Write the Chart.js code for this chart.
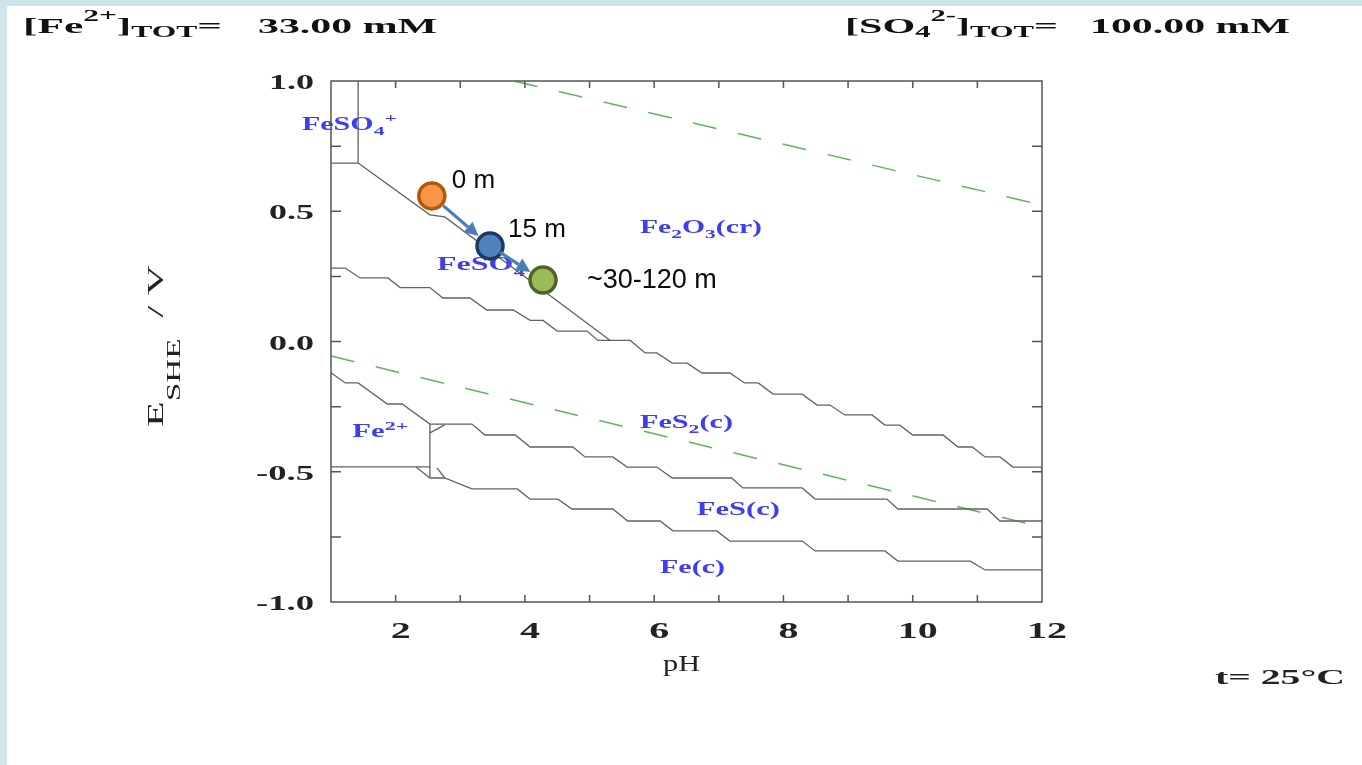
<!DOCTYPE html>
<html>
<head>
<meta charset="utf-8">
<title>Fe-S Pourbaix diagram</title>
<script src="https://cdn.jsdelivr.net/npm/chart.js@4.4.1/dist/chart.umd.min.js"></script>
<style>
  html, body { margin: 0; padding: 0; background: #fff; }
  canvas { display: block; }
</style>
</head>
<body>
<canvas id="pourbaix" width="1362" height="765"></canvas>
<script>
// boundary lines, [pH, E/V]
const fesoBox = [[1.00, 0.685], [1.42, 0.685], [1.42, 1.00]];
const fesoDiag = [[1.42, 0.685], [2.53, 0.486], [2.76, 0.478], [5.32, 0.004]];
const upperSteps = [[1.00, 0.282], [1.22, 0.282], [1.45, 0.244], [1.88, 0.244], [2.07, 0.207], [2.53, 0.207],
  [2.73, 0.167], [3.15, 0.167], [3.41, 0.121], [3.82, 0.121], [4.08, 0.081], [4.28, 0.081], [4.50, 0.040],
  [4.96, 0.040], [5.13, 0.004], [5.63, 0.004], [5.86, -0.044], [6.04, -0.044], [6.28, -0.083], [6.51, -0.083],
  [6.74, -0.121], [7.17, -0.121], [7.40, -0.159], [7.61, -0.159], [7.84, -0.202], [8.29, -0.202], [8.52, -0.244],
  [8.72, -0.244], [8.95, -0.282], [9.37, -0.282], [9.57, -0.321], [9.80, -0.321], [10.00, -0.359], [10.47, -0.359],
  [10.70, -0.405], [10.92, -0.405], [11.12, -0.443], [11.35, -0.443], [11.55, -0.482], [12.00, -0.482]];
const fe2Upper = [[1.00, -0.120], [1.22, -0.159], [1.42, -0.159], [1.87, -0.240], [2.10, -0.240], [2.53, -0.317],
  [3.18, -0.317], [3.38, -0.359], [3.85, -0.359], [4.08, -0.405], [4.74, -0.405], [4.93, -0.443], [5.36, -0.443],
  [5.58, -0.482], [6.04, -0.482], [6.28, -0.524], [7.20, -0.524], [7.37, -0.562], [8.29, -0.562], [8.49, -0.605],
  [9.60, -0.605], [9.77, -0.643], [11.15, -0.643], [11.35, -0.689], [12.00, -0.689]];
const fe2Lower = [[1.00, -0.481], [2.53, -0.481]];
const fe2Wall = [[2.53, -0.317], [2.53, -0.524]];
const lowerSteps = [[2.53, -0.524], [2.76, -0.524], [3.18, -0.566], [3.88, -0.566], [4.08, -0.605], [4.51, -0.605],
  [4.73, -0.643], [5.36, -0.643], [5.59, -0.689], [6.09, -0.689], [6.29, -0.727], [6.97, -0.727], [7.17, -0.766],
  [8.29, -0.766], [8.49, -0.804], [9.57, -0.804], [9.77, -0.843], [10.89, -0.843], [11.12, -0.877], [12.00, -0.877]];
const kinks = [[[2.53, -0.351], [2.76, -0.320]], [[2.32, -0.483], [2.53, -0.524]], [[2.64, -0.485], [2.76, -0.524]]];
const o2Line = [[3.83, 1.00], [12.00, 0.524]];
const h2Line = [[1.00, -0.056], [12.00, -0.712]];

// sampled water
const sampleLabels = ['0 m', '15 m', '~30-120 m'];
const samplePH = [2.56, 3.46, 4.28];
const sampleE = [0.559, 0.367, 0.236];

// species names and where they sit (pH, E)
const speciesNames = [
  [['FeSO', ''], ['4', 'sub'], ['+', 'sup']],
  [['Fe', ''], ['2', 'sub'], ['O', ''], ['3', 'sub'], ['(cr)', '']],
  [['FeSO', ''], ['4', 'sub']],
  [['Fe', ''], ['2+', 'sup']],
  [['FeS', ''], ['2', 'sub'], ['(c)', '']],
  [['FeS(c)', '']],
  [['Fe(c)', '']]
];
const speciesPH = [0.55, 5.78, 2.64, 1.33, 5.78, 6.66, 6.09];
const speciesE = [0.812, 0.417, 0.274, -0.367, -0.332, -0.666, -0.889];

// axes
const xTickLabels = [2, 4, 6, 8, 10, 12];
const xTickMarks = [2, 3, 4, 5, 6, 7, 8, 9, 10, 11];
const yTickValues = [1.0, 0.5, 0.0, -0.5, -1.0];
const yTickLabels = ['1.0', '0.5', '0.0', '-0.5', '-1.0'];
const yTickMarks = [0.75, 0.5, 0.25, 0, -0.25, -0.5, -0.75];

const SERIF = '"Liberation Serif", "Times New Roman", serif';
const SANS = '"Liberation Sans", Arial, sans-serif';

const pts = a => a.map(p => ({ x: p[0], y: p[1] }));
const boundary = a => ({ data: pts(a), showLine: true, borderColor: '#626262', borderWidth: 1.3, pointRadius: 0, order: 2 });
const water = a => ({ data: pts(a), showLine: true, borderColor: '#5fb45f', borderWidth: 1.5, borderDash: [24, 22], pointRadius: 0, order: 3 });

// text made of pieces, some set as sub/superscript, stretched to a given width
function drawRich(ctx, parts, x, y, size, width, opt) {
  opt = opt || {};
  const fam = opt.family || SERIF;
  const wt = opt.weight || 'normal';
  const small = opt.small || 0.7;
  const fontFor = k => wt + ' ' + (k ? Math.round(size * small) : size) + 'px ' + fam;
  let nat = 0;
  parts.forEach(p => { ctx.font = fontFor(p[1]); nat += ctx.measureText(p[0]).width; });
  const sx = width ? width / nat : 1;
  ctx.save();
  ctx.translate(x, y);
  if (opt.rotate) ctx.rotate(opt.rotate);
  ctx.scale(sx, 1);
  let cx = opt.align === 'right' ? -nat : (opt.align === 'center' ? -nat / 2 : 0);
  ctx.fillStyle = opt.color || '#111';
  ctx.textAlign = 'left';
  ctx.textBaseline = 'alphabetic';
  parts.forEach(p => {
    ctx.font = fontFor(p[1]);
    const dy = p[1] === 'sub' ? size * (opt.subShift || 0.25) : (p[1] === 'sup' ? -size * (opt.supShift || 0.42) : 0);
    ctx.fillText(p[0], cx, dy);
    cx += ctx.measureText(p[0]).width;
  });
  ctx.restore();
}

function arrow(ctx, x0, y0, x1, y1) {
  const a = Math.atan2(y1 - y0, x1 - x0);
  const head = 14, half = 7;
  const bx = x1 - head * Math.cos(a), by = y1 - head * Math.sin(a);
  ctx.save();
  ctx.strokeStyle = '#4a7ebb';
  ctx.fillStyle = '#4a7ebb';
  ctx.lineWidth = 3.2;
  ctx.beginPath();
  ctx.moveTo(x0, y0);
  ctx.lineTo(bx, by);
  ctx.stroke();
  ctx.beginPath();
  ctx.moveTo(x1, y1);
  ctx.lineTo(bx + half * Math.sin(a), by - half * Math.cos(a));
  ctx.lineTo(bx - half * Math.sin(a), by + half * Math.cos(a));
  ctx.closePath();
  ctx.fill();
  ctx.restore();
}

const speciesWidths = [95, 122, 88, 56, 93, 83, 65];

const diagram = {
  id: 'diagram',
  beforeDraw(chart) {
    const ctx = chart.ctx;
    ctx.save();
    ctx.fillStyle = '#d0e4ec';
    ctx.fillRect(0, 0, chart.width, chart.height);
    ctx.fillStyle = '#ffffff';
    ctx.fillRect(7, 6, chart.width - 7, chart.height - 6);
    ctx.restore();
  },
  beforeDatasetsDraw(chart) {
    const ctx = chart.ctx, xs = chart.scales.x, ys = chart.scales.y;
    speciesNames.forEach((name, i) => {
      drawRich(ctx, name, xs.getPixelForValue(speciesPH[i]), ys.getPixelForValue(speciesE[i]), 18, speciesWidths[i],
        { weight: 'bold', color: '#3d3df2', small: 0.72, subShift: 0.3, supShift: 0.42 });
    });
  },
  afterDatasetsDraw(chart) {
    const ctx = chart.ctx, xs = chart.scales.x, ys = chart.scales.y;
    const a = chart.chartArea;
    ctx.save();
    ctx.strokeStyle = '#555';
    ctx.lineWidth = 1.5;
    ctx.strokeRect(a.left, a.top, a.right - a.left, a.bottom - a.top);
    ctx.beginPath();
    xTickMarks.forEach(v => {
      const px = xs.getPixelForValue(v);
      ctx.moveTo(px, a.bottom); ctx.lineTo(px, a.bottom - 7);
      ctx.moveTo(px, a.top); ctx.lineTo(px, a.top + 7);
    });
    yTickMarks.forEach(v => {
      const py = ys.getPixelForValue(v);
      ctx.moveTo(a.left, py); ctx.lineTo(a.left + 10, py);
      ctx.moveTo(a.right, py); ctx.lineTo(a.right - 10, py);
    });
    ctx.stroke();
    ctx.restore();

    xTickLabels.forEach(v => {
      drawRich(ctx, [[String(v), '']], xs.getPixelForValue(v) + 5, 638, 24, String(v).length * 20, { weight: 'bold', align: 'center', color: '#222' });
    });
    yTickValues.forEach((v, i) => {
      const t = yTickLabels[i];
      drawRich(ctx, [[t, '']], 314, ys.getPixelForValue(v) + 8, 21, t.length === 3 ? 45 : 58, { weight: 'bold', align: 'right', color: '#222' });
    });

    drawRich(ctx, [['pH', '']], 663, 671, 24, 37, { color: '#222' });
    drawRich(ctx, [['E', ''], ['SHE', 'sub'], ['  / V', '']], 163, 427, 24, 162,
      { rotate: -Math.PI / 2, small: 0.78, subShift: 0.72, color: '#222' });

    // sample path
    const sp = samplePH.map((v, i) => [xs.getPixelForValue(v), ys.getPixelForValue(sampleE[i])]);
    for (let i = 0; i < sp.length - 1; i++) {
      const dx = sp[i + 1][0] - sp[i][0], dy = sp[i + 1][1] - sp[i][1];
      const d = Math.hypot(dx, dy), ux = dx / d, uy = dy / d;
      const r0 = i === 0 ? 15 : 12;
      arrow(ctx, sp[i][0] + ux * r0, sp[i][1] + uy * r0, sp[i + 1][0] - ux * 15, sp[i + 1][1] - uy * 15);
    }
    const offs = [[20, -8], [18, -9], [44, 8]];
    const sizes = [26, 26, 27];
    sampleLabels.forEach((t, i) => {
      ctx.save();
      ctx.font = sizes[i] + 'px ' + SANS;
      ctx.fillStyle = '#0a0a0a';
      ctx.textBaseline = 'alphabetic';
      ctx.fillText(t, sp[i][0] + offs[i][0], sp[i][1] + offs[i][1]);
      ctx.restore();
    });

    // header and footer notes
    drawRich(ctx, [['[Fe', ''], ['2+', 'sup'], [']', ''], ['TOT', 'sub'], ['=', '']], 23, 33, 22, 199,
      { weight: 'bold', small: 0.72, subShift: 0.2, supShift: 0.55 });
    drawRich(ctx, [['33.00 mM', '']], 258, 33, 22, 179, { weight: 'bold' });
    drawRich(ctx, [['[SO', ''], ['4', 'sub'], ['2-', 'sup'], [']', ''], ['TOT', 'sub'], ['=', '']], 845, 33, 22, 213,
      { weight: 'bold', small: 0.72, subShift: 0.2, supShift: 0.55 });
    drawRich(ctx, [['100.00 mM', '']], 1090, 33, 22, 200, { weight: 'bold' });
    drawRich(ctx, [['t= 25°C', '']], 1215, 684, 21, 130, { weight: 'bold', color: '#222' });
  }
};

new Chart(document.getElementById('pourbaix'), {
  type: 'scatter',
  data: {
    datasets: [
      {
        data: samplePH.map((v, i) => ({ x: v, y: sampleE[i] })),
        pointRadius: 13,
        pointHoverRadius: 13,
        pointBorderWidth: 3.5,
        pointBackgroundColor: ['#f79646', '#4f81bd', '#9bbb59'],
        pointBorderColor: ['#b65708', '#1f3a60', '#4f6228'],
        order: 0
      },
      boundary(fesoBox), boundary(fesoDiag), boundary(upperSteps), boundary(fe2Upper),
      boundary(fe2Lower), boundary(fe2Wall), boundary(lowerSteps),
      boundary(kinks[0]), boundary(kinks[1]), boundary(kinks[2]),
      water(o2Line), water(h2Line)
    ]
  },
  options: {
    responsive: false,
    animation: false,
    devicePixelRatio: 1,
    layout: { padding: { left: 0, top: 81, right: 320, bottom: 63 } },
    plugins: { legend: { display: false }, tooltip: { enabled: false } },
    scales: {
      x: {
        type: 'linear', min: 1, max: 12,
        grid: { display: false }, border: { display: false },
        ticks: { display: false },
        afterFit(s) { s.height = 100; }
      },
      y: {
        type: 'linear', min: -1, max: 1,
        grid: { display: false }, border: { display: false },
        ticks: { display: false },
        afterFit(s) { s.width = 331; }
      }
    }
  },
  plugins: [diagram]
});
</script>
</body>
</html>
